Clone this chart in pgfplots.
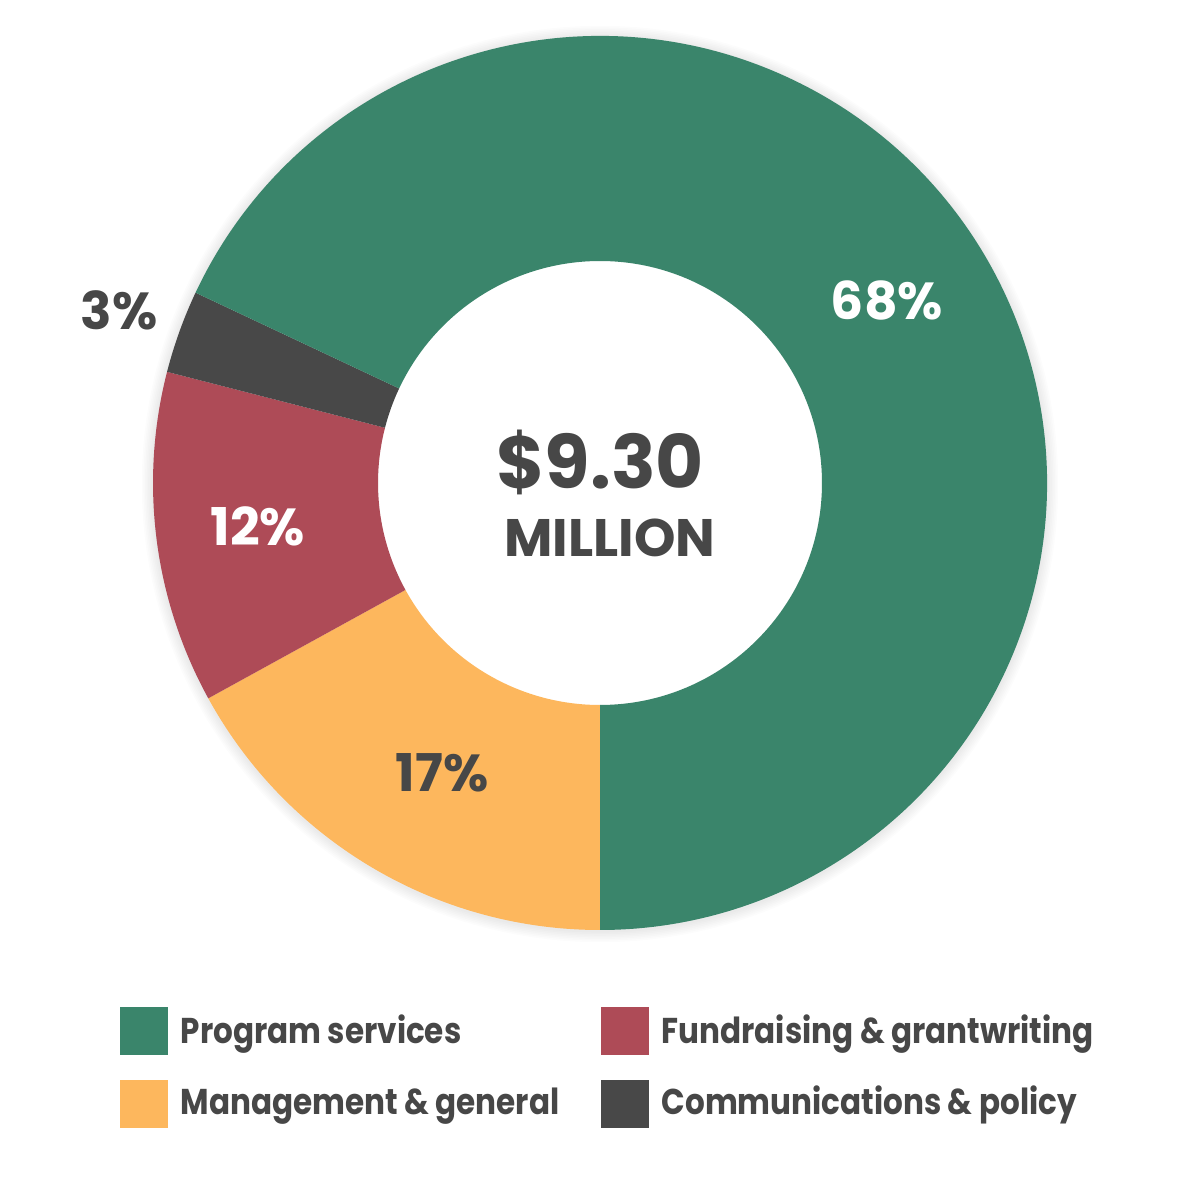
\documentclass[border=0pt]{standalone}
\usepackage{pgfplots}
\usepackage{pgfplotstable}
\pgfplotsset{compat=1.18}
\usepackage{fontspec}
\setmainfont{Poppins}
\newfontfamily\legendfont{Poppins}[FakeStretch=0.865]

\definecolor{progGreen}{HTML}{3A856B}
\definecolor{mgmtYellow}{HTML}{FDB75D}
\definecolor{fundRed}{HTML}{AE4B57}
\definecolor{commDark}{HTML}{484848}
\definecolor{txtDark}{HTML}{474747}

% Spending shares (percent), in drawing order clockwise from 6 o'clock
\pgfplotstableread{
cat pct
Management 17
Fundraising 12
Communications 3
Program 68
}\spending

\begin{document}
\begin{tikzpicture}
\pgfplotstablegetelem{0}{pct}\of\spending \let\pA\pgfplotsretval
\pgfplotstablegetelem{1}{pct}\of\spending \let\pB\pgfplotsretval
\pgfplotstablegetelem{2}{pct}\of\spending \let\pC\pgfplotsretval
\pgfplotstablegetelem{3}{pct}\of\spending \let\pD\pgfplotsretval
% cumulative boundary angles
\pgfmathsetmacro\aA{270}
\pgfmathsetmacro\aB{\aA-3.6*\pA}
\pgfmathsetmacro\aC{\aB-3.6*\pB}
\pgfmathsetmacro\aD{\aC-3.6*\pC}
\pgfmathsetmacro\aE{\aD-3.6*\pD}
% label angles (slice middles)
\pgfmathsetmacro\mA{(\aA+\aB)/2+2}
\pgfmathsetmacro\mB{(\aB+\aC)/2}
\pgfmathsetmacro\mC{(\aC+\aD)/2}
\pgfmathsetmacro\mD{(\aD+\aE)/2}
\def\cx{600}\def\cy{717}\def\Ro{447}\def\Ri{222}
\newcommand\slice[3]{%
  \fill[#3, overlay] (axis cs:{\cx+\Ro*cos(#1)},{\cy+\Ro*sin(#1)})
    arc[start angle=#1,end angle=#2,radius=\Ro]
    -- (axis cs:{\cx+\Ri*cos(#2)},{\cy+\Ri*sin(#2)})
    arc[start angle=#2,end angle=#1,radius=\Ri] -- cycle;}
\begin{axis}[
  x=0.01cm, y=0.01cm,
  xmin=0, xmax=1200, ymin=0, ymax=1200,
  hide axis, clip=false, enlargelimits=false,
]
\fill[white] (axis cs:0,0) rectangle (axis cs:1200,1200);
% soft shadow just outside the ring
\pgfplotsinvokeforeach{1,...,7}{
  \fill[black, opacity=0.012, even odd rule, overlay]
    (axis cs:\cx,\cy-1) circle[radius=\Ro+1.6*#1]
    (axis cs:\cx,\cy) circle[radius=\Ro-6];
}
\slice{\aA}{\aB}{mgmtYellow}
\slice{\aB}{\aC}{fundRed}
\slice{\aC}{\aD}{commDark}
\slice{\aD}{\aE}{progGreen}

% slice labels
\node[font=\fontsize{14.8pt}{16pt}\selectfont\bfseries, text=txtDark]
  at (axis cs:{\cx+330*cos(\mA)},{\cy+330*sin(\mA)}) {\pA\%};
\node[font=\fontsize{14.8pt}{16pt}\selectfont\bfseries, text=white]
  at (axis cs:{\cx+345*cos(\mB)},{\cy+345*sin(\mB)}) {\pB\%};
\node[font=\fontsize{14.8pt}{16pt}\selectfont\bfseries, text=txtDark]
  at (axis cs:{\cx+511*cos(\mC)},{\cy+511*sin(\mC)}) {\pC\%};
\node[font=\fontsize{14.8pt}{16pt}\selectfont\bfseries, text=white]
  at (axis cs:{\cx+340*cos(\mD)},{\cy+340*sin(\mD)}) {\pD\%};

% total in the centre
\node[font=\fontsize{21pt}{24pt}\selectfont\bfseries, text=txtDark]
  at (axis cs:600,738) {\$9.30};
\node[font=\fontsize{15pt}{16pt}\selectfont\bfseries, text=txtDark]
  at (axis cs:610,662) {MILLION};

% legend
\fill[progGreen] (axis cs:120,145) rectangle (axis cs:168,193);
\fill[mgmtYellow] (axis cs:120,72) rectangle (axis cs:168,120);
\fill[fundRed] (axis cs:601,145) rectangle (axis cs:649,193);
\fill[commDark] (axis cs:601,72) rectangle (axis cs:649,120);
\begin{scope}[every node/.style={anchor=base west, inner sep=0pt,
    font=\legendfont\fontsize{10.2pt}{12pt}\selectfont\bfseries, text=txtDark}]
\node at (axis cs:180,157) {Program services};
\node at (axis cs:180,85) {Management \& general};
\node at (axis cs:661,157) {Fundraising \& grantwriting};
\node at (axis cs:661,85) {Communications \& policy};
\end{scope}
\end{axis}
\end{tikzpicture}
\end{document}
